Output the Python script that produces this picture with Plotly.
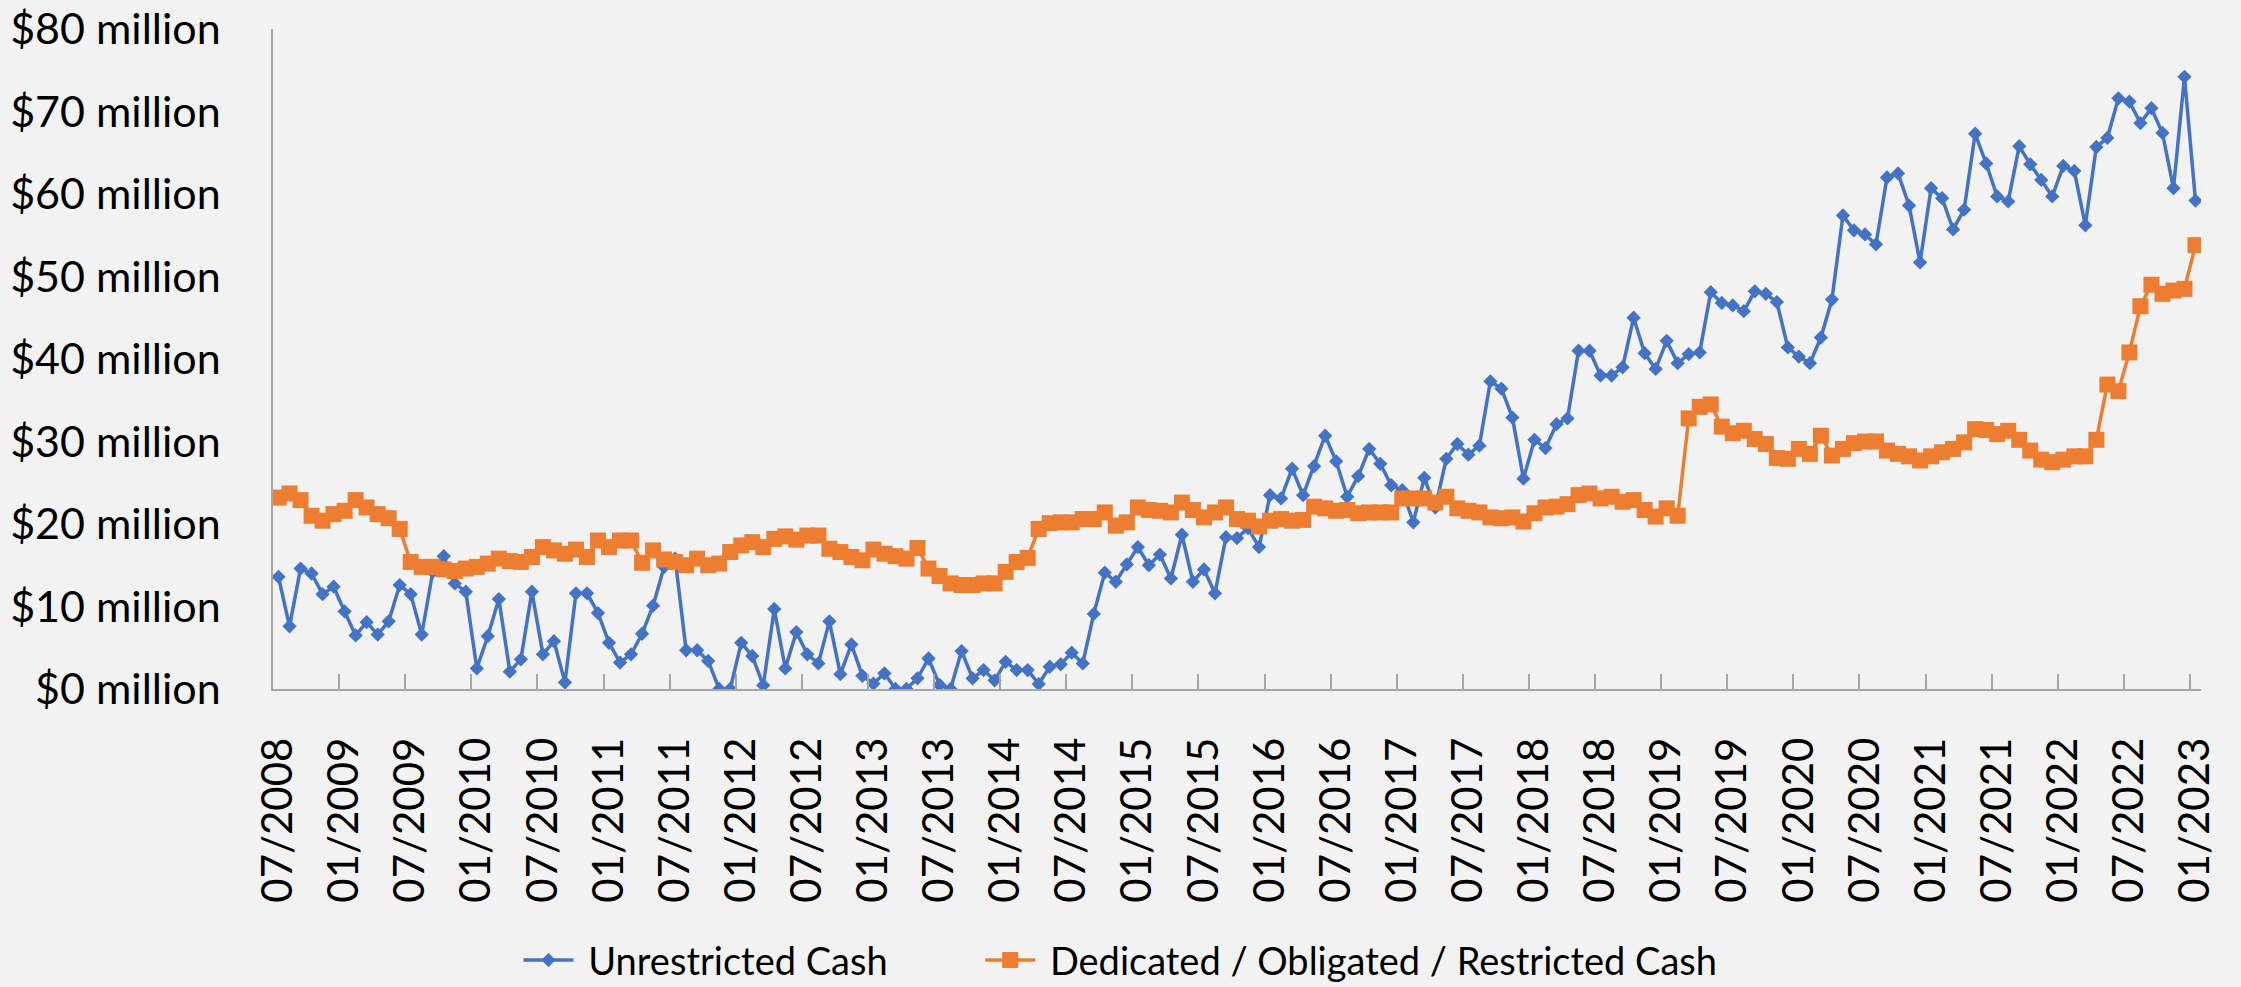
import plotly.graph_objects as go

# Monthly categories 07/2008 .. 01/2023 (175 months); label every 6th month
tick_labels = [
    "07/2008", "01/2009", "07/2009", "01/2010", "07/2010", "01/2011", "07/2011",
    "01/2012", "07/2012", "01/2013", "07/2013", "01/2014", "07/2014", "01/2015",
    "07/2015", "01/2016", "07/2016", "01/2017", "07/2017", "01/2018", "07/2018",
    "01/2019", "07/2019", "01/2020", "07/2020", "01/2021", "07/2021", "01/2022",
    "07/2022", "01/2023",
]

unrestricted = [
    13.6, 7.6, 14.6, 14.0, 11.5, 12.4, 9.4, 6.5, 8.1, 6.6, 8.2, 12.6,
    11.5, 6.6, 14.2, 16.1, 12.8, 11.8, 2.5, 6.4, 10.9, 2.1, 3.6, 11.8,
    4.2, 5.8, 0.8, 11.6, 11.6, 9.2, 5.6, 3.2, 4.2, 6.7, 10.1, 14.8,
    15.8, 4.7, 4.7, 3.4, 0.0, 0.0, 5.6, 4.0, 0.45, 9.7, 2.5, 6.9,
    4.2, 3.1, 8.2, 1.8, 5.4, 1.6, 0.65, 1.9, 0.0, 0.0, 1.3, 3.7,
    0.5, 0.0, 4.6, 1.3, 2.3, 1.05, 3.3, 2.3, 2.3, 0.6, 2.7, 3.0,
    4.4, 3.1, 9.1, 14.1, 13.0, 15.1, 17.2, 15.0, 16.3, 13.4, 18.7, 13.0,
    14.5, 11.6, 18.4, 18.3, 19.5, 17.2, 23.5, 23.1, 26.7, 23.5, 27.0, 30.7,
    27.6, 23.3, 25.8, 29.1, 27.3, 24.7, 24.1, 20.2, 25.6, 22.0, 27.9, 29.7,
    28.4, 29.5, 37.3, 36.4, 32.9, 25.5, 30.2, 29.2, 32.1, 32.8, 41.0, 41.0,
    38.0, 38.0, 39.0, 45.0, 40.7, 38.8, 42.2, 39.5, 40.6, 40.8, 48.1, 46.8,
    46.5, 45.8, 48.2, 47.9, 46.9, 41.4, 40.3, 39.5, 42.6, 47.2, 57.4, 55.6,
    55.1, 53.9, 62.0, 62.5, 58.6, 51.7, 60.7, 59.5, 55.7, 58.1, 67.3, 63.7,
    59.7, 59.1, 65.8, 63.6, 61.7, 59.7, 63.4, 62.8, 56.2, 65.7, 66.8, 71.6,
    71.2, 68.6, 70.4, 67.4, 60.7, 74.2, 59.2,
]

restricted = [
    23.2, 23.7, 22.9, 21.0, 20.4, 21.2, 21.6, 22.9, 22.0, 21.2, 20.7, 19.4,
    15.4, 14.8, 14.8, 14.5, 14.3, 14.6, 14.8, 15.2, 15.8, 15.5, 15.4, 16.0,
    17.2, 16.8, 16.4, 16.9, 16.0, 18.0, 17.2, 18.0, 18.0, 15.3, 16.8, 15.7,
    15.4, 15.0, 15.8, 15.0, 15.2, 16.6, 17.4, 17.8, 17.2, 18.2, 18.5, 18.1,
    18.6, 18.6, 17.0, 16.6, 16.0, 15.6, 16.9, 16.4, 16.1, 15.8, 17.1, 14.6,
    13.7, 12.8, 12.6, 12.6, 12.8, 12.8, 14.2, 15.4, 15.9, 19.4, 20.1, 20.2,
    20.2, 20.6, 20.6, 21.4, 19.8, 20.2, 22.0, 21.7, 21.6, 21.4, 22.6, 21.7,
    20.8, 21.4, 22.0, 20.6, 20.4, 19.7, 20.4, 20.6, 20.4, 20.5, 22.1, 21.9,
    21.6, 21.7, 21.3, 21.4, 21.4, 21.4, 23.1, 23.1, 23.1, 22.6, 23.3, 21.9,
    21.6, 21.4, 20.8, 20.7, 20.8, 20.3, 21.3, 22.0, 22.1, 22.4, 23.5, 23.7,
    23.1, 23.3, 22.7, 22.9, 21.7, 20.9, 21.9, 21.0, 32.8, 34.2, 34.5, 31.8,
    31.0, 31.3, 30.3, 29.7, 28.0, 27.9, 29.1, 28.5, 30.7, 28.3, 29.1, 29.8,
    30.0, 30.0, 28.9, 28.5, 28.2, 27.7, 28.2, 28.7, 29.1, 29.9, 31.5, 31.4,
    30.9, 31.3, 30.2, 28.9, 27.8, 27.5, 27.8, 28.2, 28.2, 30.2, 36.9, 36.1,
    40.8, 46.4, 49.0, 47.9, 48.3, 48.5, 53.8,
]

y_ticks = [0, 10, 20, 30, 40, 50, 60, 70, 80]
y_tick_text = ["$%d million" % v for v in y_ticks]

series_names = ["Unrestricted Cash", "Dedicated / Obligated / Restricted Cash"]

n = len(unrestricted)
x_idx = list(range(n))
label_pos = list(range(0, n, 6))
tick_pos = [p - 0.5 for p in range(0, n + 1, 6)]

FONT = "Lato"
AXIS_COLOR = "#A6A6A6"
BG = "#F2F2F2"
NBSP = "\u00a0"

fig = go.Figure()
fig.add_trace(go.Scatter(
    x=x_idx, y=unrestricted, mode="lines+markers",
    name=NBSP + series_names[0] + NBSP * 9,
    line=dict(color="#4472C4", width=3.5),
    marker=dict(symbol="diamond", size=11, color="#4472C4"),
))
fig.add_trace(go.Scatter(
    x=x_idx, y=restricted, mode="lines+markers",
    name=NBSP + series_names[1],
    line=dict(color="#ED7D31", width=3.5),
    marker=dict(symbol="square", size=16, color="#ED7D31"),
))
# invisible trace so the secondary (tick-mark) axis is rendered
fig.add_trace(go.Scatter(x=[0], y=[0], xaxis="x2", mode="markers",
                         marker=dict(opacity=0), showlegend=False, hoverinfo="skip"))

fig.update_layout(
    width=2241, height=987,
    paper_bgcolor=BG, plot_bgcolor=BG,
    margin=dict(l=273, r=40, t=29, b=298, pad=0),
    font=dict(family=FONT, color="#000000", size=42),
    showlegend=True,
    legend=dict(
        orientation="h", xref="container", x=0.5, xanchor="center",
        yref="container", y=0.027, yanchor="middle",
        font=dict(family=FONT, size=38, color="#000000"),
        bgcolor="rgba(0,0,0,0)", itemwidth=50, tracegroupgap=0,
    ),
    xaxis=dict(
        range=[-0.5, n - 0.5], tickmode="array", tickvals=label_pos,
        ticktext=tick_labels, tickangle=-90, ticks="", showgrid=False,
        zeroline=False, showline=True, linecolor=AXIS_COLOR, linewidth=1.5,
        tickfont=dict(family=FONT, size=42, color="#000000"),
        ticklabelstandoff=30, automargin=False,
    ),
    xaxis2=dict(
        range=[-0.5, n - 0.5], overlaying="x", anchor="y", side="bottom",
        tickmode="array", tickvals=tick_pos, showticklabels=False,
        ticks="inside", ticklen=15, tickwidth=1.5, tickcolor=AXIS_COLOR,
        showgrid=False, zeroline=False, showline=False, automargin=False,
    ),
    yaxis=dict(
        range=[0, 80], tickmode="array", tickvals=y_ticks, ticktext=y_tick_text,
        showgrid=False, zeroline=False, showline=True, linecolor=AXIS_COLOR,
        linewidth=1.5, ticks="", tickfont=dict(family=FONT, size=43, color="#000000"),
        ticklabelstandoff=42, automargin=False,
    ),
)

fig.write_html("out.html", config={"displayModeBar": False},
               post_script="document.body.style.margin='0';")
